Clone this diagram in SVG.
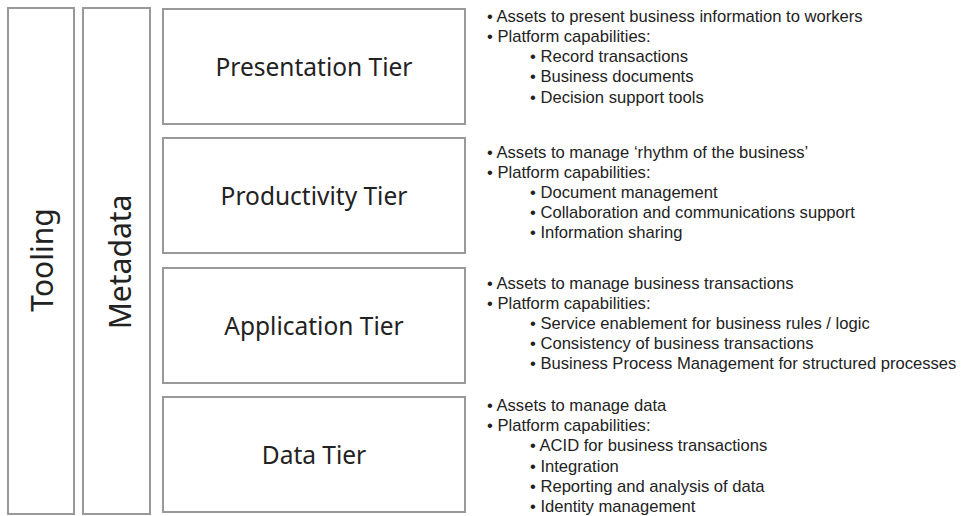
<svg xmlns="http://www.w3.org/2000/svg" width="962" height="516" viewBox="0 0 962 516">
<style>
.box{fill:#fff;stroke:#999;stroke-width:2}
.tier{font-family:"Noto Sans","Open Sans",sans-serif;font-size:24.5px;fill:#222;text-anchor:middle}
.side{font-family:"Noto Sans","Open Sans",sans-serif;font-size:30px;fill:#222;text-anchor:middle}
.b{font-family:"Liberation Sans",Arial,sans-serif;font-size:16.6px;fill:#222}
</style>
<rect width="962" height="516" fill="#fff"/>
<g id="tooling"><rect class="box" x="8" y="8" width="66" height="506"/><text class="side" transform="translate(53 260) rotate(-90)">Tooling</text></g>
<g id="metadata"><rect class="box" x="83" y="8" width="67" height="506"/><text class="side" transform="translate(131 262) rotate(-90)">Metadata</text></g>
<g id="presentation"><rect class="box" x="163" y="9" width="302" height="115"/><text class="tier" x="314" y="76">Presentation Tier</text></g>
<g id="productivity"><rect class="box" x="163" y="138" width="302" height="115"/><text class="tier" x="314" y="205">Productivity Tier</text></g>
<g id="application"><rect class="box" x="163" y="268" width="302" height="115"/><text class="tier" x="314" y="335">Application Tier</text></g>
<g id="data"><rect class="box" x="163" y="397" width="302" height="115"/><text class="tier" x="314" y="464">Data Tier</text></g>
<g id="connectors"/>
<g id="notes" class="b">
<text x="487" y="22">• Assets to present business information to workers</text>
<text x="487" y="42">• Platform capabilities:</text>
<text x="530" y="62">• Record transactions</text>
<text x="530" y="82">• Business documents</text>
<text x="530" y="103">• Decision support tools</text>
<text x="487" y="158">• Assets to manage ‘rhythm of the business’</text>
<text x="487" y="178">• Platform capabilities:</text>
<text x="530" y="198">• Document management</text>
<text x="530" y="218">• Collaboration and communications support</text>
<text x="530" y="238">• Information sharing</text>
<text x="487" y="289">• Assets to manage business transactions</text>
<text x="487" y="309">• Platform capabilities:</text>
<text x="530" y="329">• Service enablement for business rules / logic</text>
<text x="530" y="349">• Consistency of business transactions</text>
<text x="530" y="369">• Business Process Management for structured processes</text>
<text x="487" y="411">• Assets to manage data</text>
<text x="487" y="431">• Platform capabilities:</text>
<text x="530" y="451">• ACID for business transactions</text>
<text x="530" y="472">• Integration</text>
<text x="530" y="492">• Reporting and analysis of data</text>
<text x="530" y="512">• Identity management</text>
</g>
</svg>
